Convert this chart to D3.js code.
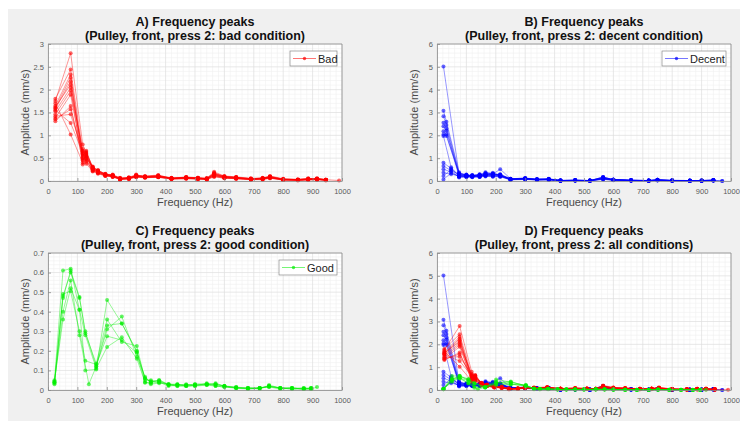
<!DOCTYPE html>
<html><head><meta charset="utf-8">
<script src="https://cdn.jsdelivr.net/npm/d3@7"></script>
<style>
html,body{margin:0;padding:0;background:#fff;}
text{font-family:"Liberation Sans",Arial,Helvetica,sans-serif;}
</style></head>
<body><svg id="chart" width="740" height="421"></svg>
<script>
// ---------------- DATA ----------------
const xTicks = [0,100,200,300,400,500,600,700,800,900,1000];
const yTicksBad = [0,0.5,1,1.5,2,2.5,3];
const yTicksDecent = [0,1,2,3,4,5,6];
const yTicksGood = [0,0.1,0.2,0.3,0.4,0.5,0.6,0.7];
const yTicksAll = [0,1,2,3,4,5,6];

const badFreq = [25,77,118,130,152,170,195,220,245,275,300,330,375,420,470,510,540,565,600,640,690,730,755,800,850,885,915,945,990];
const badAmp = [
 [1.75,2.80,0.80,0.62,0.30,0.24,0.15,0.12,0.06,0.07,0.13,0.10,0.12,0.06,0.08,0.07,0.06,0.18,0.10,0.08,0.05,0.06,0.10,0.04,0.03,0.05,0.05,0.03,0.01],
 [1.80,2.44,0.65,0.58,0.28,0.22,0.14,0.13,0.05,0.06,0.12,0.09,0.11,0.05,0.07,0.06,0.05,0.16,0.09,0.07,0.04,0.05,0.09,0.03,0.02,0.04,0.05,0.02,null],
 [1.65,2.33,0.55,0.66,0.27,0.20,0.13,0.11,0.04,0.05,0.11,0.08,0.10,0.06,0.06,0.05,0.04,0.14,0.08,0.06,0.04,0.05,0.08,0.03,0.03,0.03,0.04,0.03,null],
 [1.60,2.26,0.47,0.55,0.25,0.18,0.12,0.10,0.03,0.05,0.10,0.07,0.09,0.04,0.05,0.05,0.04,0.12,0.07,0.05,0.03,0.04,0.07,0.02,0.02,0.03,0.03,0.02,null],
 [1.62,2.11,0.60,0.50,0.32,0.21,0.16,0.12,0.05,0.08,0.14,0.09,0.12,0.07,0.08,0.06,0.06,0.20,0.11,0.09,0.06,0.06,0.11,0.05,0.04,0.05,0.06,0.03,null],
 [1.53,2.04,0.36,0.48,0.22,0.17,0.11,0.09,0.04,0.06,0.09,0.08,0.08,0.05,0.06,0.04,0.03,0.10,0.06,0.05,0.03,0.04,0.06,0.03,0.02,0.03,0.03,0.02,null],
 [1.46,1.97,0.70,0.60,0.29,0.23,0.15,0.14,0.07,0.07,0.12,0.11,0.13,0.06,0.09,0.07,0.06,0.17,0.10,0.08,0.05,0.07,0.10,0.04,0.03,0.06,0.05,0.03,null],
 [1.38,1.89,0.50,0.45,0.24,0.19,0.13,0.11,0.05,0.06,0.10,0.09,0.10,0.05,0.07,0.06,0.05,0.13,0.08,0.07,0.04,0.05,0.08,0.03,0.02,0.04,0.04,0.02,null],
 [1.31,1.64,0.45,0.52,0.26,0.20,0.14,0.12,0.06,0.07,0.11,0.10,0.11,0.06,0.08,0.07,0.05,0.15,0.09,0.08,0.05,0.06,0.09,0.04,0.03,0.04,0.05,0.03,null],
 [1.55,1.27,0.62,0.42,0.23,0.18,0.12,0.10,0.04,0.05,0.09,0.08,0.09,0.05,0.06,0.05,0.04,0.11,0.07,0.06,0.04,0.05,0.07,0.03,0.02,0.03,0.04,0.02,null],
 [1.70,1.02,0.40,0.38,0.21,0.16,0.11,0.09,0.03,0.04,0.08,0.07,0.08,0.04,0.05,0.04,0.03,0.09,0.06,0.05,0.03,0.03,0.06,0.02,0.01,0.02,0.03,0.01,null],
 [1.35,1.57,0.58,0.54,0.27,0.21,0.14,0.11,0.05,0.06,0.11,0.09,0.10,0.06,0.07,0.06,0.05,0.14,0.09,0.07,0.04,0.05,0.08,0.03,0.02,0.04,0.04,0.02,null],
 [1.58,2.18,0.52,0.64,0.31,0.23,0.15,0.13,0.06,0.07,0.12,0.10,0.11,0.06,0.08,0.06,0.05,0.16,0.10,0.08,0.05,0.06,0.09,0.04,0.03,0.05,0.05,0.03,null],
 [1.42,1.46,0.66,0.57,0.28,0.20,0.13,0.10,0.05,0.06,0.10,0.08,0.09,0.05,0.07,0.05,0.04,0.12,0.08,0.06,0.04,0.05,0.07,0.03,0.02,0.03,0.04,0.02,null]
];

const decentFreq = [22,32,48,75,100,120,145,165,190,215,250,300,340,380,420,470,520,565,600,660,720,750,800,860,900,940,970];
const decentAmp = [
 [5.02,null,null,0.30,0.25,0.22,0.28,0.33,0.30,0.52,0.10,0.12,0.08,0.08,0.02,0.03,0.02,0.15,0.06,0.03,0.02,0.05,0.02,0.01,0.02,0.04,0.00],
 [3.08,2.60,null,0.38,0.22,0.25,0.20,0.30,0.28,0.25,0.08,0.10,0.07,0.09,0.01,0.02,0.01,0.18,0.05,0.02,0.01,0.04,0.01,0.01,0.01,0.03,0.00],
 [2.84,2.45,null,0.33,0.28,0.20,0.25,0.35,0.32,0.28,0.09,0.11,0.06,0.07,0.02,0.03,0.02,0.12,0.06,0.03,0.02,0.05,0.02,0.02,0.02,0.02,null],
 [2.55,2.30,null,0.25,0.20,0.24,0.22,0.28,0.36,0.22,0.07,0.09,0.05,0.06,0.01,0.02,0.01,0.10,0.04,0.02,0.01,0.03,0.01,0.00,0.01,0.02,null],
 [2.40,2.20,null,0.28,0.24,0.26,0.30,0.25,0.27,0.30,0.10,0.13,0.09,0.10,0.03,0.04,0.02,0.16,0.07,0.04,0.02,0.06,0.03,0.02,0.02,0.04,null],
 [2.18,2.05,null,0.22,0.18,0.21,0.18,0.24,0.22,0.20,0.06,0.08,0.05,0.05,0.01,0.02,0.01,0.09,0.04,0.02,0.01,0.03,0.01,0.01,0.01,0.02,null],
 [2.04,1.97,null,0.35,0.27,0.23,0.26,0.38,0.33,0.26,0.09,0.11,0.07,0.08,0.02,0.03,0.02,0.14,0.06,0.03,0.02,0.05,0.02,0.01,0.02,0.03,null],
 [1.97,null,0.60,0.20,0.23,0.19,0.24,0.22,0.25,0.24,0.08,0.09,0.06,0.07,0.02,0.02,0.01,0.11,0.05,0.02,0.01,0.04,0.02,0.01,0.01,0.03,null],
 [0.80,null,0.55,0.25,0.21,0.22,0.21,0.27,0.29,0.23,0.07,0.10,0.06,0.07,0.01,0.03,0.01,0.13,0.05,0.03,0.01,0.04,0.02,0.01,0.02,0.03,null],
 [0.66,null,0.45,0.30,0.26,0.24,0.27,0.31,0.26,0.27,0.09,0.12,0.08,0.09,0.02,0.04,0.02,0.17,0.06,0.03,0.02,0.05,0.03,0.02,0.02,0.04,null],
 [0.51,null,0.40,0.18,0.19,0.17,0.19,0.23,0.20,0.21,0.06,0.08,0.05,0.06,0.01,0.02,0.01,0.08,0.04,0.02,0.01,0.03,0.01,0.01,0.01,0.02,null],
 [0.36,null,0.30,0.22,0.24,0.21,0.23,0.29,0.31,0.25,0.08,0.10,0.07,0.08,0.02,0.03,0.02,0.12,0.05,0.03,0.02,0.04,0.02,0.01,0.02,0.03,null],
 [0.22,null,0.50,0.15,0.17,0.16,0.18,0.20,0.19,0.18,0.05,0.07,0.04,0.05,0.01,0.02,0.01,0.07,0.03,0.01,0.01,0.02,0.01,0.00,0.01,0.02,null],
 [0.07,null,0.35,0.20,0.22,0.20,0.22,0.26,0.24,0.22,0.07,0.09,0.06,0.07,0.02,0.02,0.01,0.10,0.04,0.02,0.01,0.03,0.02,0.01,0.01,0.02,null]
];

const goodFreq = [22,51,77,107,127,139,164,201,251,302,330,350,378,410,440,470,500,540,570,600,640,680,720,752,790,830,870,895,915];
const goodAmp = [
 [0.05,0.61,0.62,0.41,0.10,null,0.105,0.46,0.34,0.20,0.06,0.04,0.05,0.03,0.03,0.025,0.03,0.03,0.03,0.02,0.015,0.01,0.01,0.02,0.01,0.01,0.005,0.005,0.015],
 [0.03,0.47,0.61,0.475,0.29,null,0.135,0.36,0.245,0.225,0.05,0.05,0.045,0.025,0.02,0.02,0.025,0.025,0.02,0.015,0.01,0.005,0.01,0.015,0.01,0.005,0.005,0.01,null],
 [0.04,0.40,0.56,0.28,null,0.03,0.12,0.31,0.375,0.17,0.068,0.035,0.04,0.02,0.025,0.03,0.02,0.035,0.025,0.02,0.01,0.01,0.005,0.025,0.01,0.01,0.005,0.005,null],
 [0.045,0.36,0.52,0.41,0.28,null,0.11,0.22,0.27,0.16,0.04,0.03,0.035,0.03,0.02,0.025,0.03,0.03,0.02,0.015,0.01,0.01,0.01,0.015,0.005,0.01,0.01,0.005,null],
 [0.035,0.49,0.505,0.30,0.15,null,0.13,0.275,0.255,0.19,0.037,0.04,0.05,0.025,0.03,0.02,0.025,0.03,0.03,0.02,0.015,0.005,0.01,0.02,0.01,0.005,0.01,0.01,null],
 [0.04,0.48,0.60,0.47,0.30,null,0.12,0.33,0.34,0.195,0.06,0.045,0.04,0.03,0.025,0.02,0.02,0.025,0.035,0.02,0.01,0.01,0.01,0.02,0.01,0.01,0.005,0.01,null]
];

// ---------------- DRAW ----------------
const svg = d3.select('#chart');
svg.append('rect').attr('x',8).attr('y',9).attr('width',732).attr('height',412).attr('fill','#f0f0f0');

const seriesDefs = {
  bad:{freq:badFreq, amp:badAmp, color:'#ff0000', name:'Bad'},
  decent:{freq:decentFreq, amp:decentAmp, color:'#0000ff', name:'Decent'},
  good:{freq:goodFreq, amp:goodAmp, color:'#00ee00', name:'Good'}
};

const panels = [
  {id:'A', t1:'A) Frequency peaks', t2:'(Pulley, front, press 2: bad condition)', x0:48, x1:342, y0:44, y1:181, yTicks:yTicksBad, series:['bad'], legend:'bad', legW:47},
  {id:'B', t1:'B) Frequency peaks', t2:'(Pulley, front, press 2: decent condition)', x0:437, x1:731, y0:44, y1:181, yTicks:yTicksDecent, series:['decent'], legend:'decent', legW:64},
  {id:'C', t1:'C) Frequency peaks', t2:'(Pulley, front, press 2: good condition)', x0:48, x1:342, y0:253, y1:390, yTicks:yTicksGood, series:['good'], legend:'good', legW:58},
  {id:'D', t1:'D) Frequency peaks', t2:'(Pulley, front, press 2: all conditions)', x0:437, x1:731, y0:253, y1:390, yTicks:yTicksAll, series:['decent','bad','good'], legend:null}
];

panels.forEach(p => {
  const yMax = p.yTicks[p.yTicks.length-1];
  const x = d3.scaleLinear().domain([0,1000]).range([p.x0,p.x1]);
  const y = d3.scaleLinear().domain([0,yMax]).range([p.y1,p.y0]);
  const g = svg.append('g');
  g.append('rect').attr('x',p.x0).attr('y',p.y0).attr('width',p.x1-p.x0).attr('height',p.y1-p.y0).attr('fill','#fff');

  // minor grid
  const yStep = p.yTicks[1]-p.yTicks[0];
  const minorX = d3.range(0,1001,20).filter(v=>v%100!==0);
  const minorY = d3.range(1, Math.round(yMax/yStep*5)).filter(i=>i%5!==0).map(i=>i*yStep/5);
  g.selectAll(null).data(minorX).join('line').attr('x1',d=>x(d)).attr('x2',d=>x(d)).attr('y1',p.y0).attr('y2',p.y1).attr('stroke','#f0f0f0').attr('stroke-width',0.6);
  g.selectAll(null).data(minorY).join('line').attr('y1',d=>y(d)).attr('y2',d=>y(d)).attr('x1',p.x0).attr('x2',p.x1).attr('stroke','#f0f0f0').attr('stroke-width',0.6);
  // major grid
  g.selectAll(null).data(xTicks).join('line').attr('x1',d=>x(d)).attr('x2',d=>x(d)).attr('y1',p.y0).attr('y2',p.y1).attr('stroke','#dedede').attr('stroke-width',0.7);
  g.selectAll(null).data(p.yTicks).join('line').attr('y1',d=>y(d)).attr('y2',d=>y(d)).attr('x1',p.x0).attr('x2',p.x1).attr('stroke','#dedede').attr('stroke-width',0.7);

  // clip
  const cid = 'clip'+p.id;
  svg.append('clipPath').attr('id',cid).append('rect').attr('x',p.x0).attr('y',p.y0-3).attr('width',p.x1-p.x0+3).attr('height',p.y1-p.y0+6);
  const dg = g.append('g').attr('clip-path',`url(#${cid})`);
  const line = d3.line().x(d=>x(d[0])).y(d=>y(d[1]));
  p.series.forEach(key => {
    const s = seriesDefs[key];
    s.amp.forEach(row => {
      const pts = row.map((v,i)=>[s.freq[i],v]).filter(d=>d[1]!==null);
      dg.append('path').attr('d',line(pts)).attr('fill','none').attr('stroke',s.color).attr('stroke-opacity',0.45).attr('stroke-width',0.9);
      dg.selectAll(null).data(pts).join('circle').attr('cx',d=>x(d[0])).attr('cy',d=>y(d[1])).attr('r',2).attr('fill',s.color).attr('fill-opacity',0.6);
    });
  });

  // axes
  const ax = g.append('g').attr('transform',`translate(0,${p.y1})`).call(d3.axisBottom(x).tickValues(xTicks).tickFormat(d=>String(d)).tickSizeInner(-3).tickSizeOuter(0).tickPadding(8));
  const ay = g.append('g').attr('transform',`translate(${p.x0},0)`).call(d3.axisLeft(y).tickValues(p.yTicks).tickFormat(d=>String(d)).tickSizeInner(-3).tickSizeOuter(0).tickPadding(4));
  [ax,ay].forEach(a=>{
    a.select('.domain').attr('stroke','#8a8a8a').attr('stroke-width',0.8);
    a.selectAll('.tick line').attr('stroke','#8a8a8a').attr('stroke-width',0.8);
    a.selectAll('.tick text').attr('fill','#5a5a5a').attr('font-size','7.5px').attr('font-family','"Liberation Sans",Arial,sans-serif');
  });
  // box top/right
  g.append('line').attr('x1',p.x0).attr('x2',p.x1).attr('y1',p.y0).attr('y2',p.y0).attr('stroke','#8a8a8a').attr('stroke-width',0.8);
  g.append('line').attr('x1',p.x1).attr('x2',p.x1).attr('y1',p.y0).attr('y2',p.y1).attr('stroke','#8a8a8a').attr('stroke-width',0.8);

  // titles
  const cx = (p.x0+p.x1)/2;
  g.append('text').attr('x',cx).attr('y',p.y0-18).attr('text-anchor','middle').attr('font-size','12.5px').attr('font-weight','bold').attr('fill','#111').text(p.t1);
  g.append('text').attr('x',cx).attr('y',p.y0-4).attr('text-anchor','middle').attr('font-size','12.5px').attr('font-weight','bold').attr('fill','#111').text(p.t2);
  // axis labels
  g.append('text').attr('x',cx).attr('y',p.y1+25).attr('text-anchor','middle').attr('font-size','11px').attr('fill','#4a4a4a').text('Frequency (Hz)');
  g.append('text').attr('transform',`translate(${p.x0-19},${(p.y0+p.y1)/2}) rotate(-90)`).attr('text-anchor','middle').attr('font-size','11px').attr('fill','#4a4a4a').text('Amplitude (mm/s)');

  // legend
  if (p.legend) {
    const s = seriesDefs[p.legend];
    const lx = p.x1-5-p.legW, ly = p.y0+7;
    const lg = g.append('g');
    lg.append('rect').attr('x',lx).attr('y',ly).attr('width',p.legW).attr('height',15).attr('fill','#fff').attr('stroke','#8a8a8a').attr('stroke-width',0.7);
    lg.append('line').attr('x1',lx+3).attr('x2',lx+26).attr('y1',ly+7.5).attr('y2',ly+7.5).attr('stroke',s.color).attr('stroke-opacity',0.6).attr('stroke-width',0.9);
    lg.append('circle').attr('cx',lx+14.5).attr('cy',ly+7.5).attr('r',1.7).attr('fill',s.color).attr('fill-opacity',0.7);
    lg.append('text').attr('x',lx+28).attr('y',ly+11.5).attr('font-size','11px').attr('fill','#222').text(s.name);
  }
});
</script></body></html>
